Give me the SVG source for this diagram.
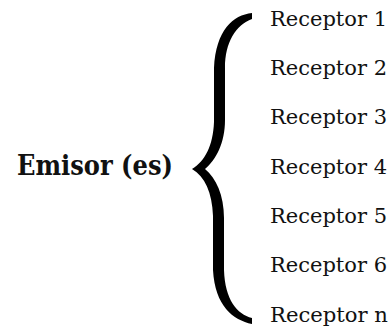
<svg xmlns="http://www.w3.org/2000/svg" width="392" height="327" viewBox="0 0 392 327">
<style>
.r{font-family:"DejaVu Serif","Liberation Serif",serif;font-size:21px;fill:#111}
.e{font-family:"DejaVu Serif","Liberation Serif",serif;font-size:27px;font-weight:bold;fill:#111}
</style>
<rect width="392" height="327" fill="#fff"/>
<g id="emisor"><text class="e" x="17" y="175" textLength="156" lengthAdjust="spacingAndGlyphs">Emisor (es)</text></g>
<g id="connectors">
<path id="brace" fill="#000" d="M252,13 C233,15 216,30 214,68 L214,122 C213,146 205,161 192,169 C205,177 212,192 213,216 L213,270 C215,306 233,320 252,324 L252,318 C237,314 225,300 224,270 L224,218 C224,195 216,178 205,169 C216,160 225,143 225,120 L225,68 C225,42 236,25 252,19 Z"/>
</g>
<g id="r1"><text class="r" x="270" y="26" textLength="117" lengthAdjust="spacingAndGlyphs">Receptor 1</text></g>
<g id="r2"><text class="r" x="270" y="75" textLength="117" lengthAdjust="spacingAndGlyphs">Receptor 2</text></g>
<g id="r3"><text class="r" x="270" y="124" textLength="117" lengthAdjust="spacingAndGlyphs">Receptor 3</text></g>
<g id="r4"><text class="r" x="270" y="174" textLength="117" lengthAdjust="spacingAndGlyphs">Receptor 4</text></g>
<g id="r5"><text class="r" x="270" y="223" textLength="117" lengthAdjust="spacingAndGlyphs">Receptor 5</text></g>
<g id="r6"><text class="r" x="270" y="272" textLength="117" lengthAdjust="spacingAndGlyphs">Receptor 6</text></g>
<g id="rn"><text class="r" x="270" y="322" textLength="118" lengthAdjust="spacingAndGlyphs">Receptor n</text></g>
</svg>
